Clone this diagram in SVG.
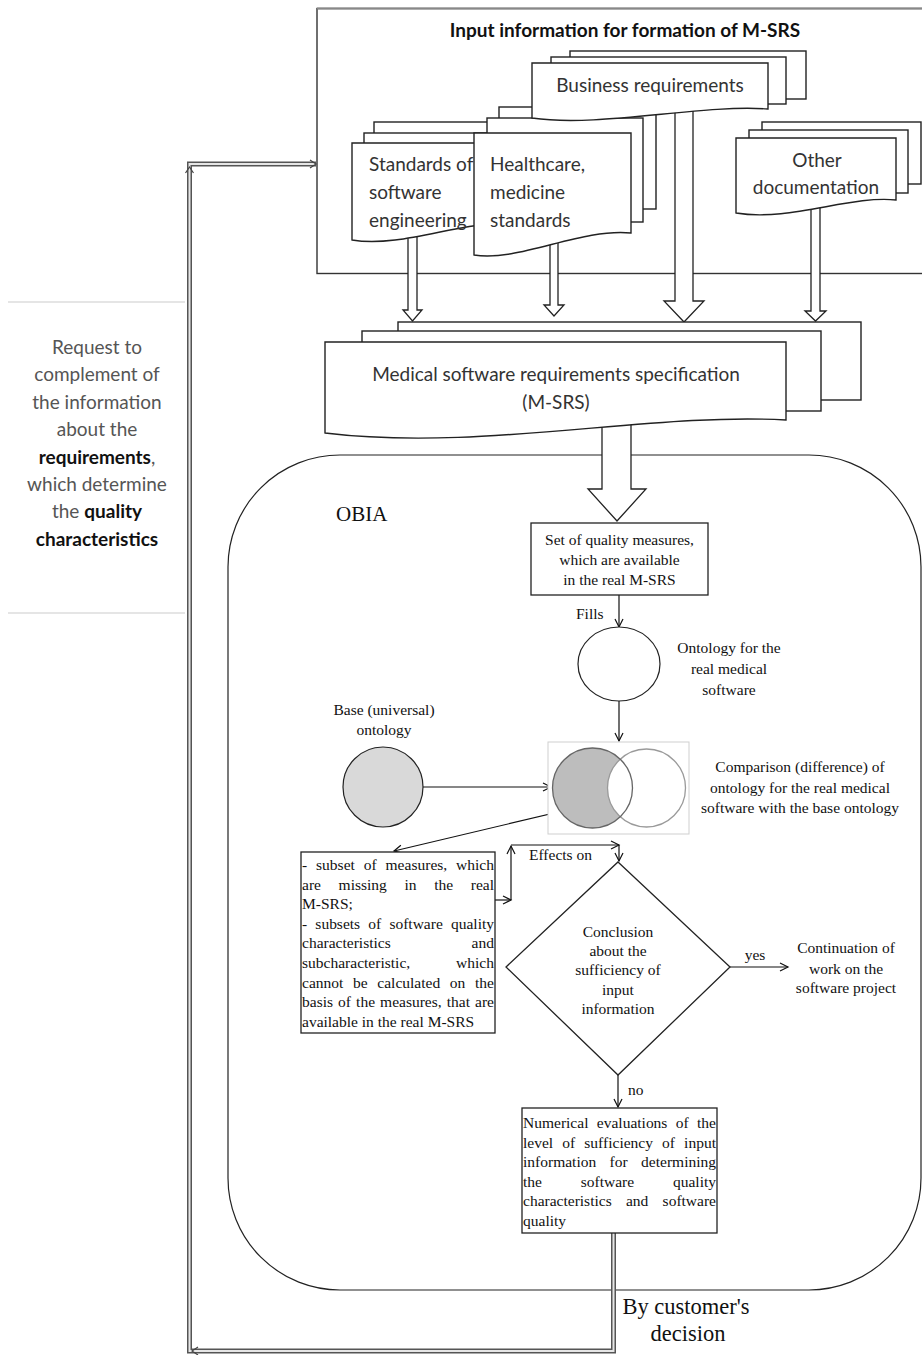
<svg xmlns="http://www.w3.org/2000/svg" width="922" height="1355" viewBox="0 0 922 1355">
<defs>
<style>
.ln{fill:none;stroke:#111;stroke-width:1.2}
.bx{fill:#fff;stroke:#222;stroke-width:1.3}
.doc{fill:#fff;stroke:#222;stroke-width:1.4}
.ha{fill:#fff;stroke:#222;stroke-width:1.3}
.t{font-family:"Liberation Serif","Times New Roman",serif;font-size:15.5px;fill:#111}
.s{font-family:Lato,"Open Sans",sans-serif;font-size:19px;fill:#333}
.c{text-anchor:middle}
.dl-o{fill:none;stroke:#555;stroke-width:5}
.dl-i{fill:none;stroke:#e6e6e6;stroke-width:2}
</style>
<marker id="ah" markerWidth="12" markerHeight="12" refX="9" refY="5" orient="auto" markerUnits="userSpaceOnUse">
<path d="M1,1 L9,5 L1,9" fill="none" stroke="#111" stroke-width="1.2"/>
</marker>
</defs>
<rect width="922" height="1355" fill="#fff"/>

<!-- left side note -->
<g id="request-note">
<line x1="8" y1="302" x2="185" y2="302" stroke="#dcdcdc" stroke-width="1.5"/>
<line x1="8" y1="613" x2="185" y2="613" stroke="#dcdcdc" stroke-width="1.5"/>
<text class="s c" x="97" y="354" style="fill:#555">Request to</text>
<text class="s c" x="97" y="381" style="fill:#555">complement of</text>
<text class="s c" x="97" y="409" style="fill:#555">the information</text>
<text class="s c" x="97" y="436" style="fill:#555">about the</text>
<text class="s c" x="97" y="464" style="fill:#555"><tspan font-weight="bold" style="fill:#111">requirements</tspan>,</text>
<text class="s c" x="97" y="491" style="fill:#555">which determine</text>
<text class="s c" x="97" y="518" style="fill:#555">the <tspan font-weight="bold" style="fill:#111">quality</tspan></text>
<text class="s c" x="97" y="546" font-weight="bold" style="fill:#111">characteristics</text>
</g>

<!-- input information frame -->
<g id="input-frame">
<rect x="317" y="8.5" width="620" height="265" fill="#fff" stroke="#333" stroke-width="1.4"/>
<rect x="317" y="7.5" width="620" height="2" fill="#888"/>
<text class="s c" x="625" y="37" font-weight="bold" style="fill:#111;font-size:19px">Input information for formation of M-SRS</text>
</g>

<!-- OBIA container -->
<g id="obia">
<rect x="228" y="455" width="693" height="835" rx="112" ry="112" fill="none" stroke="#222" stroke-width="1.2"/>
<text x="336" y="521" style="font-family:'Liberation Serif','Times New Roman',serif;font-size:21px;fill:#111">OBIA</text>
</g>

<!-- connectors -->
<g id="connectors">
<polygon class="ha" points="408,230 417,230 417,310 422,310 412.5,321 403,310 408,310"/>
<polygon class="ha" points="550,240 558,240 558,305 564,305 554,316 544,305 550,305"/>
<polygon class="ha" points="675,110 693,110 693,301 704,301 684,322 664,301 675,301"/>
<polygon class="ha" points="811,200 820,200 820,311 826,311 815.5,321 805,311 811,311"/>
<polygon class="ha" points="602,420 631,420 631,489 646,489 617,521 588,489 602,489"/>
<line class="ln" x1="619" y1="595" x2="619" y2="627" marker-end="url(#ah)"/>
<line class="ln" x1="619" y1="701" x2="619" y2="741" marker-end="url(#ah)"/>
<line class="ln" x1="423" y1="787" x2="551" y2="787" marker-end="url(#ah)"/>
<line class="ln" x1="588" y1="805" x2="394" y2="851" marker-end="url(#ah)"/>
<line class="ln" x1="495" y1="900" x2="511" y2="900" marker-end="url(#ah)"/>
<line class="ln" x1="511" y1="900" x2="511" y2="846" marker-end="url(#ah)"/>
<line class="ln" x1="511" y1="845" x2="619" y2="845" marker-end="url(#ah)"/>
<line class="ln" x1="619" y1="845" x2="619" y2="861" marker-end="url(#ah)"/>
<line class="ln" x1="730" y1="967" x2="788" y2="967" marker-end="url(#ah)"/>
<line class="ln" x1="618" y1="1075" x2="618" y2="1107" marker-end="url(#ah)"/>
<path class="dl-o" d="M613.5,1233 V1351 H189.5 V164 H316"/>
<path class="dl-i" d="M613.5,1233 V1351 H189.5 V164 H316"/>
<path d="M198,1347 L192,1351 L198,1355" fill="none" stroke="#444" stroke-width="1.2"/>
<path d="M185.5,173 L189.5,167 L193.5,173" fill="none" stroke="#444" stroke-width="1.2"/>
<path d="M310,160 L316,164 L310,168" fill="none" stroke="#444" stroke-width="1.2"/>
<text class="t" x="576" y="619">Fills</text>
<text class="t" x="529" y="860">Effects on</text>
<text class="t c" x="755" y="960">yes</text>
<text class="t" x="628" y="1095">no</text>
<text class="t c" x="686" y="1314" style="font-size:22.5px">By customer's</text>
<text class="t c" x="688" y="1341" style="font-size:22.5px">decision</text>
</g>

<!-- document stacks -->
<g id="doc-standards">
<rect class="doc" x="374" y="122" width="146" height="93"/>
<rect class="doc" x="364" y="133" width="146" height="88"/>
<path class="doc" d="M352,143 H495 V225 C460,222 400,248 352,240 Z"/>
<text class="s" x="369" y="171">Standards of</text>
<text class="s" x="369" y="199">software</text>
<text class="s" x="369" y="227">engineering</text>
</g>
<g id="doc-healthcare">
<rect class="doc" x="499" y="107" width="157" height="102"/>
<rect class="doc" x="487" y="118" width="156" height="104"/>
<path class="doc" d="M474,133 H631 V233 C580,228 520,262 474,255 Z"/>
<text class="s" x="490" y="171">Healthcare,</text>
<text class="s" x="490" y="199">medicine</text>
<text class="s" x="490" y="227">standards</text>
</g>
<g id="doc-business">
<rect class="doc" x="570" y="51" width="236" height="48"/>
<rect class="doc" x="551" y="57" width="235" height="47"/>
<path class="doc" d="M532,63 H768 V109 C700,104 600,128 532,118 Z"/>
<text class="s c" x="650" y="92">Business requirements</text>
</g>
<g id="doc-other">
<rect class="doc" x="762" y="122" width="159" height="62"/>
<rect class="doc" x="749" y="130" width="159" height="63"/>
<path class="doc" d="M736,138 H896 V200 C850,195 790,222 736,213 Z"/>
<text class="s c" x="817" y="167">Other</text>
<text class="s c" x="816" y="194">documentation</text>
</g>
<g id="doc-msrs">
<rect class="doc" x="398" y="322" width="463" height="78"/>
<rect class="doc" x="362" y="331" width="459" height="80"/>
<path class="doc" d="M325,342 H786 V420 C650,412 480,452 325,433 Z"/>
<text class="s c" x="556" y="381">Medical software requirements specification</text>
<text class="s c" x="556" y="409">(M-SRS)</text>
</g>

<!-- OBIA nodes -->
<g id="quality-measures">
<rect class="bx" x="531" y="523" width="177" height="72"/>
<text class="t c" x="619.5" y="545">Set of quality measures,</text>
<text class="t c" x="619.5" y="565">which are available</text>
<text class="t c" x="619.5" y="585">in the real M-SRS</text>
</g>
<g id="real-ontology">
<ellipse cx="619" cy="664" rx="41" ry="37" fill="#fff" stroke="#222" stroke-width="1.2"/>
<text class="t c" x="729" y="653">Ontology for the</text>
<text class="t c" x="729" y="674">real medical</text>
<text class="t c" x="729" y="695">software</text>
</g>
<g id="base-ontology">
<circle cx="383" cy="787" r="40" fill="#d9d9d9" stroke="#222" stroke-width="1.2"/>
<text class="t c" x="384" y="715">Base (universal)</text>
<text class="t c" x="384" y="735">ontology</text>
</g>
<g id="comparison">
<rect x="548" y="742" width="141" height="92" fill="#fff" stroke="#cfcfcf" stroke-width="1"/>
<circle cx="592.5" cy="788" r="40" fill="#bdbdbd"/>
<circle cx="646.5" cy="788" r="39" fill="#fff" stroke="#9a9a9a" stroke-width="1.3"/>
<circle cx="592.5" cy="788" r="40" fill="none" stroke="#666" stroke-width="1.3"/>
<text class="t c" x="800" y="772">Comparison (difference) of</text>
<text class="t c" x="800" y="793">ontology for the real medical</text>
<text class="t c" x="800" y="813">software with the base ontology</text>
</g>
<g id="missing-subsets">
<rect class="bx" x="301" y="852" width="194" height="181"/>
<text class="t" x="302" y="870" word-spacing="5" textLength="192" lengthAdjust="spacing">- subset of measures, which</text>
<text class="t" x="302" y="889.6" word-spacing="13.8" textLength="192" lengthAdjust="spacing">are missing in the real</text>
<text class="t" x="302" y="909.2">M-SRS;</text>
<text class="t" x="302" y="928.8" word-spacing="4.3" textLength="192" lengthAdjust="spacing">- subsets of software quality</text>
<text class="t" x="302" y="948.4" word-spacing="77" textLength="192" lengthAdjust="spacing">characteristics and</text>
<text class="t" x="302" y="968" word-spacing="42" textLength="192" lengthAdjust="spacing">subcharacteristic, which</text>
<text class="t" x="302" y="987.6" word-spacing="5.8" textLength="192" lengthAdjust="spacing">cannot be calculated on the</text>
<text class="t" x="302" y="1007.2" word-spacing="1.2" textLength="192" lengthAdjust="spacing">basis of the measures, that are</text>
<text class="t" x="302" y="1026.8">available in the real M-SRS</text>
</g>
<g id="conclusion">
<polygon points="618,862 730,967 618,1075 506,967" fill="#fff" stroke="#222" stroke-width="1.3"/>
<text class="t c" x="618" y="937">Conclusion</text>
<text class="t c" x="618" y="956">about the</text>
<text class="t c" x="618" y="975">sufficiency of</text>
<text class="t c" x="618" y="995">input</text>
<text class="t c" x="618" y="1014">information</text>
</g>
<g id="continuation">
<text class="t c" x="846" y="953">Continuation of</text>
<text class="t c" x="846" y="974">work on the</text>
<text class="t c" x="846" y="993">software project</text>
</g>
<g id="numerical-evaluations">
<rect class="bx" x="522" y="1108" width="195" height="125"/>
<text class="t" x="523" y="1128" word-spacing="4.5" textLength="193" lengthAdjust="spacing">Numerical evaluations of the</text>
<text class="t" x="523" y="1147.5" word-spacing="5.2" textLength="193" lengthAdjust="spacing">level of sufficiency of input</text>
<text class="t" x="523" y="1167" word-spacing="9.5" textLength="193" lengthAdjust="spacing">information for determining</text>
<text class="t" x="523" y="1186.5" word-spacing="35" textLength="193" lengthAdjust="spacing">the software quality</text>
<text class="t" x="523" y="1206" word-spacing="10.4" textLength="193" lengthAdjust="spacing">characteristics and software</text>
<text class="t" x="523" y="1225.5">quality</text>
</g>
</svg>
